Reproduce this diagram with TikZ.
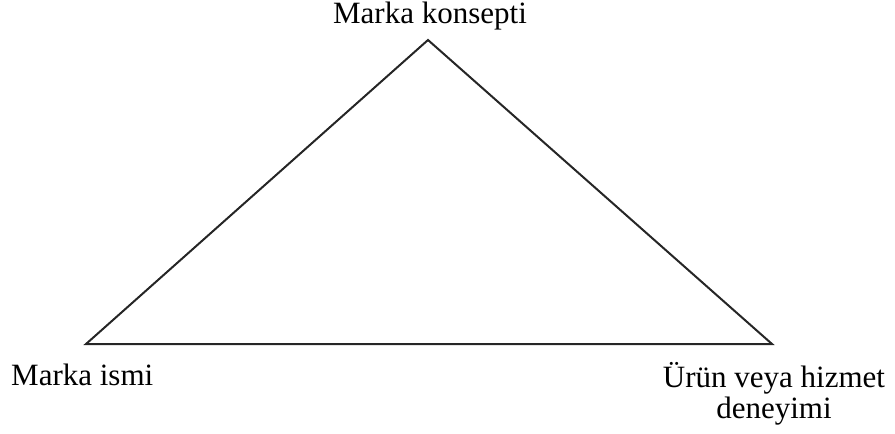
\documentclass[tikz,border=0pt]{standalone}
\usepackage{fontspec}
\setmainfont{Liberation Serif}
\begin{document}
\begin{tikzpicture}[x=1pt,y=-1pt,
  lbl/.style={inner sep=0pt,font=\fontsize{31}{31}\selectfont},
  edge/.style={line width=2pt,line join=miter,draw=black!85}]
\useasboundingbox (0,0) rectangle (895,434);
\coordinate (T) at (428,40);
\coordinate (L) at (86,344);
\coordinate (R) at (772,344);
\draw[edge] (T) -- (L) -- (R) -- cycle;
\node[lbl,anchor=base] (t) at (430,23) {Marka konsepti};
\node[lbl,anchor=base west] (l) at (11,385) {Marka ismi};
\node[lbl,anchor=base,align=center] (r) at (774,418) {Ürün veya hizmet\\deneyimi};
\end{tikzpicture}
\end{document}
